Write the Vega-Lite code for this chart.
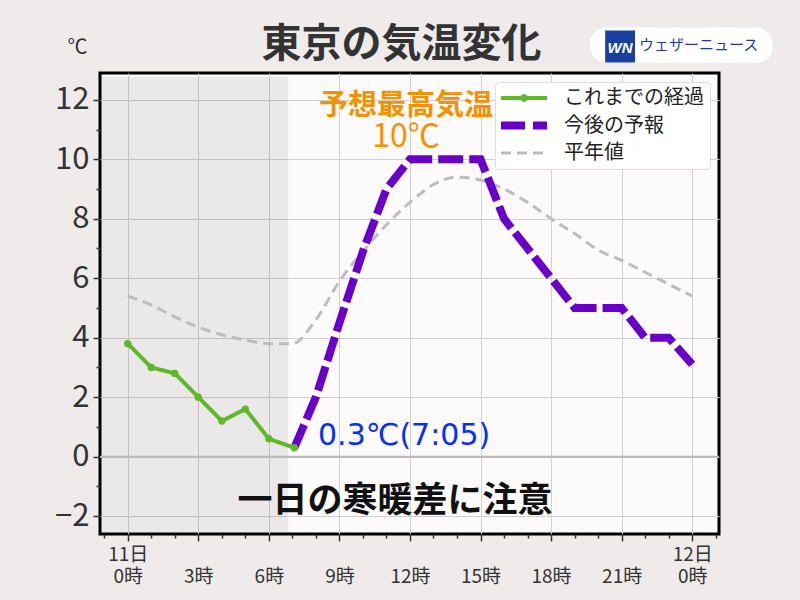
{
  "$schema": "https://vega.github.io/schema/vega-lite/v6.json",
  "width": 619,
  "height": 461,
  "autosize": {"type": "none"},
  "padding": {"left": 100, "top": 73, "right": 81, "bottom": 66},
  "background": "#eeebea",
  "config": {
    "view": {"stroke": "#000", "strokeWidth": 3, "fill": "#fcfafb"},
    "font": "Noto Sans CJK JP"
  },
  "title": {"text": "東京の気温変化", "fontSize": 40, "fontWeight": "bold", "color": "#333333", "anchor": "middle", "frame": "group", "offset": -38, "dx": -8, "font": "Noto Sans CJK JP"},
  "resolve": {"axis": {"x": "independent", "y": "independent"}},
  "datasets": {
    "temps": [
      {"series": "これまでの経過", "hour": 0, "temp": 3.8},
      {"series": "これまでの経過", "hour": 1, "temp": 3.0},
      {"series": "これまでの経過", "hour": 2, "temp": 2.8},
      {"series": "これまでの経過", "hour": 3, "temp": 2.0},
      {"series": "これまでの経過", "hour": 4, "temp": 1.2},
      {"series": "これまでの経過", "hour": 5, "temp": 1.6},
      {"series": "これまでの経過", "hour": 6, "temp": 0.6},
      {"series": "これまでの経過", "hour": 7.083, "temp": 0.3},
      {"series": "今後の予報", "hour": 7.083, "temp": 0.3},
      {"series": "今後の予報", "hour": 8, "temp": 2.0},
      {"series": "今後の予報", "hour": 9, "temp": 4.5},
      {"series": "今後の予報", "hour": 10, "temp": 6.9},
      {"series": "今後の予報", "hour": 11, "temp": 9.0},
      {"series": "今後の予報", "hour": 12, "temp": 10},
      {"series": "今後の予報", "hour": 13, "temp": 10},
      {"series": "今後の予報", "hour": 14, "temp": 10},
      {"series": "今後の予報", "hour": 15, "temp": 10},
      {"series": "今後の予報", "hour": 16, "temp": 8},
      {"series": "今後の予報", "hour": 17, "temp": 7},
      {"series": "今後の予報", "hour": 18, "temp": 6},
      {"series": "今後の予報", "hour": 19, "temp": 5},
      {"series": "今後の予報", "hour": 20, "temp": 5},
      {"series": "今後の予報", "hour": 21, "temp": 5},
      {"series": "今後の予報", "hour": 22, "temp": 4},
      {"series": "今後の予報", "hour": 23, "temp": 4},
      {"series": "今後の予報", "hour": 24, "temp": 3.1},
      {"series": "平年値", "hour": 0, "temp": 5.4},
      {"series": "平年値", "hour": 1, "temp": 5.1},
      {"series": "平年値", "hour": 2, "temp": 4.7},
      {"series": "平年値", "hour": 3, "temp": 4.35},
      {"series": "平年値", "hour": 4, "temp": 4.1},
      {"series": "平年値", "hour": 5, "temp": 3.92},
      {"series": "平年値", "hour": 6, "temp": 3.8},
      {"series": "平年値", "hour": 7, "temp": 3.8},
      {"series": "平年値", "hour": 8, "temp": 4.6},
      {"series": "平年値", "hour": 9, "temp": 5.9},
      {"series": "平年値", "hour": 10, "temp": 6.9},
      {"series": "平年値", "hour": 11, "temp": 7.8},
      {"series": "平年値", "hour": 12, "temp": 8.55},
      {"series": "平年値", "hour": 13, "temp": 9.15},
      {"series": "平年値", "hour": 14, "temp": 9.4},
      {"series": "平年値", "hour": 15, "temp": 9.3},
      {"series": "平年値", "hour": 16, "temp": 9.0},
      {"series": "平年値", "hour": 17, "temp": 8.55},
      {"series": "平年値", "hour": 18, "temp": 8.0},
      {"series": "平年値", "hour": 19, "temp": 7.5},
      {"series": "平年値", "hour": 20, "temp": 6.95},
      {"series": "平年値", "hour": 21, "temp": 6.6},
      {"series": "平年値", "hour": 22, "temp": 6.2},
      {"series": "平年値", "hour": 23, "temp": 5.8},
      {"series": "平年値", "hour": 24, "temp": 5.4}
    ]
  },
  "layer": [
    {
      "data": {"values": [{}]},
      "mark": {"type": "rect", "fill": "#000000", "opacity": 0.07},
      "encoding": {
        "x": {"datum": -1.18, "type": "quantitative", "axis": null},
        "x2": {"datum": 6.82},
        "y": {"datum": 12.77, "type": "quantitative", "axis": null},
        "y2": {"datum": -2.6}
      }
    },
    {
      "data": {"values": [{}]},
      "mark": {"type": "rule", "color": "#b8b8b8", "strokeWidth": 2},
      "encoding": {"y": {"datum": 0, "type": "quantitative", "axis": null}}
    },
    {
      "data": {"name": "temps"},
      "transform": [{"filter": "datum.series === '平年値'"}],
      "mark": {"type": "line", "interpolate": "monotone", "strokeCap": "butt", "strokeWidth": 3, "strokeDash": [10, 6]},
      "encoding": {
        "x": {
          "field": "hour", "type": "quantitative",
          "scale": {"domain": [-1.18, 25.14], "nice": false, "zero": false},
          "axis": {
            "values": [-1,0,1,2,3,4,5,6,7,8,9,10,11,12,13,14,15,16,17,18,19,20,21,22,23,24,25],
            "title": null, "domain": false,
            "tickColor": "#333333", "tickWidth": 1.5,
            "tickSize": {"condition": {"test": "datum.value % 3 !== 0", "value": 4}, "value": 7},
            "grid": true, "gridColor": "#d0d0d0", "gridWidth": 1,
            "gridOpacity": {"condition": {"test": "datum.value % 3 !== 0 || datum.value < 0 || datum.value > 24", "value": 0}, "value": 1},
            "labelExpr": "datum.value == 0 ? ['11日', '0時'] : datum.value == 24 ? ['12日', '0時'] : (datum.value > 0 && datum.value < 24 && datum.value % 3 == 0) ? ['', datum.value + '時'] : ''",
            "labelFontSize": 19, "labelColor": "#333333", "labelBaseline": "top", "labelLineHeight": 22, "labelPadding": 4,
            "labelOverlap": false, "labelFlush": false, "labelFont": "Noto Sans CJK JP"
          }
        },
        "y": {
          "field": "temp", "type": "quantitative",
          "scale": {"domain": [-2.6, 12.9], "nice": false, "zero": false},
          "axis": {
            "values": [-2,-1,0,1,2,3,4,5,6,7,8,9,10,11,12],
            "title": "℃", "titleAngle": 0, "titleFontSize": 20, "titleFontWeight": "normal", "titleColor": "#333333",
            "titleX": -23, "titleY": -26, "titleAlign": "center", "titleBaseline": "middle", "titleFont": "Noto Sans CJK JP",
            "domain": false,
            "tickColor": "#333333", "tickWidth": 1.5,
            "tickSize": {"condition": {"test": "datum.value % 2 !== 0", "value": 4}, "value": 7},
            "grid": true, "gridColor": "#d0d0d0", "gridWidth": 1,
            "gridOpacity": {"condition": {"test": "datum.value % 2 !== 0", "value": 0}, "value": 1},
            "labelExpr": "datum.value % 2 == 0 ? datum.label : ''",
            "labelFontSize": 31, "labelColor": "#333333", "labelPadding": 4,
            "labelOverlap": false, "labelFlush": false, "labelFont": "Noto Sans CJK JP"
          }
        },
        "color": {"field": "series", "type": "nominal",
          "scale": {"domain": ["これまでの経過", "今後の予報", "平年値"], "range": ["#5fb827", "#6a00c8", "#bdbdbd"]},
          "legend": {"title": null, "orient": "top-right", "offset": 9, "fillColor": "#ffffff", "strokeColor": "#dddddd", "cornerRadius": 4, "padding": 6,
            "symbolType": "stroke", "symbolSize": 400, "symbolOffset": 13, "labelFontSize": 20, "labelFont": "Noto Sans CJK JP", "labelColor": "#222222", "labelOffset": 30, "rowPadding": 1.5,
            "encode": {"symbols": {"update": {
              "shape": {"signal": "datum.value === 'これまでの経過' ? 'M-2.3,0H2.3M0.19,0A0.19,0.19,0,1,1,-0.19,0A0.19,0.19,0,1,1,0.19,0' : 'M-2.3,0H2.3'"},
              "strokeWidth": {"signal": "datum.value === 'これまでの経過' ? 4 : datum.value === '今後の予報' ? 8 : 3"},
              "strokeDash": {"signal": "datum.value === '今後の予報' ? [24, 8] : datum.value === '平年値' ? [10, 6] : [1, 0]"},
              "strokeCap": {"value": "butt"},
              "fill": {"value": "transparent"}
            }}}}
        }
      }
    },
    {
      "data": {"name": "temps"},
      "transform": [{"filter": "datum.series === '今後の予報'"}],
      "mark": {"type": "line", "strokeCap": "butt", "strokeWidth": 8, "strokeDash": [25, 6]},
      "encoding": {
        "x": {"field": "hour", "type": "quantitative", "axis": null},
        "y": {"field": "temp", "type": "quantitative", "axis": null},
        "color": {"field": "series", "type": "nominal"}
      }
    },
    {
      "data": {"name": "temps"},
      "transform": [{"filter": "datum.series === 'これまでの経過'"}],
      "mark": {"type": "line", "strokeWidth": 4},
      "encoding": {
        "x": {"field": "hour", "type": "quantitative", "axis": null},
        "y": {"field": "temp", "type": "quantitative", "axis": null},
        "color": {"field": "series", "type": "nominal"}
      }
    },
    {
      "data": {"name": "temps"},
      "transform": [{"filter": "datum.series === 'これまでの経過'"}],
      "mark": {"type": "point", "filled": true, "color": "#5fb827", "opacity": 1, "size": 55},
      "encoding": {
        "x": {"field": "hour", "type": "quantitative", "axis": null},
        "y": {"field": "temp", "type": "quantitative", "axis": null}
      }
    },
    {
      "data": {"values": [{}]},
      "mark": {"type": "text", "text": "予想最高気温", "color": "#f39200", "fontSize": 29, "fontWeight": "bold", "align": "center", "baseline": "middle", "font": "Noto Sans CJK JP"},
      "encoding": {"x": {"datum": 11.83, "type": "quantitative", "axis": null}, "y": {"datum": 11.8, "type": "quantitative", "axis": null}}
    },
    {
      "data": {"values": [{}]},
      "mark": {"type": "text", "text": "10℃", "color": "#f39200", "fontSize": 32, "fontWeight": "normal", "align": "center", "baseline": "middle", "font": "Noto Sans CJK JP"},
      "encoding": {"x": {"datum": 11.83, "type": "quantitative", "axis": null}, "y": {"datum": 10.75, "type": "quantitative", "axis": null}}
    },
    {
      "data": {"values": [{}]},
      "mark": {"type": "text", "text": "0.3℃(7:05)", "color": "#0a2ff0", "fontSize": 30, "align": "left", "baseline": "middle", "font": "DejaVu Sans"},
      "encoding": {"x": {"datum": 8.09, "type": "quantitative", "axis": null}, "y": {"datum": 0.71, "type": "quantitative", "axis": null}}
    },
    {
      "data": {"values": [{}]},
      "mark": {"type": "text", "text": "一日の寒暖差に注意", "color": "#111111", "fontSize": 35, "fontWeight": "bold", "align": "center", "baseline": "middle", "font": "Noto Sans CJK JP"},
      "encoding": {"x": {"datum": 11.36, "type": "quantitative", "axis": null}, "y": {"datum": -1.48, "type": "quantitative", "axis": null}}
    },
    {
      "data": {"values": [{}]},
      "mark": {"type": "rect", "fill": "#ffffff", "cornerRadius": 17, "clip": false},
      "encoding": {
        "x": {"datum": 19.65, "type": "quantitative", "axis": null}, "x2": {"datum": 27.43},
        "y": {"datum": 14.43, "type": "quantitative", "axis": null}, "y2": {"datum": 13.24}
      }
    },
    {
      "data": {"values": [{}]},
      "mark": {"type": "rect", "fill": "#1b3f9c", "clip": false},
      "encoding": {
        "x": {"datum": 20.3, "type": "quantitative", "axis": null}, "x2": {"datum": 21.57},
        "y": {"datum": 14.33, "type": "quantitative", "axis": null}, "y2": {"datum": 13.25}
      }
    },
    {
      "data": {"values": [{}]},
      "mark": {"type": "text", "text": "WN", "color": "#ffffff", "fontSize": 15, "fontWeight": "bold", "fontStyle": "italic", "align": "center", "baseline": "middle", "font": "Liberation Sans"},
      "encoding": {"x": {"datum": 20.93, "type": "quantitative", "axis": null}, "y": {"datum": 13.75, "type": "quantitative", "axis": null}}
    },
    {
      "data": {"values": [{}]},
      "mark": {"type": "text", "text": "ウェザーニュース", "color": "#1d3f9b", "fontSize": 15, "align": "left", "baseline": "middle", "font": "Noto Sans CJK JP"},
      "encoding": {"x": {"datum": 21.74, "type": "quantitative", "axis": null}, "y": {"datum": 13.83, "type": "quantitative", "axis": null}}
    }
  ]
}
